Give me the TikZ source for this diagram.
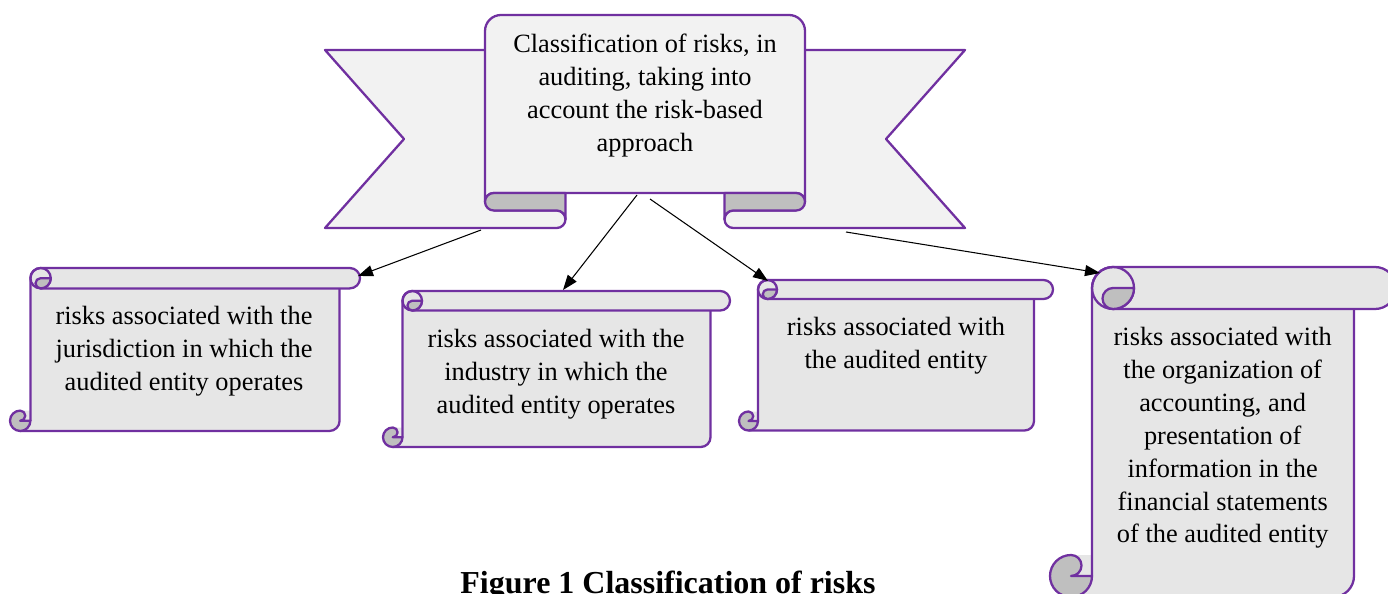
\documentclass[tikz,border=0pt]{standalone}
\usepackage{fontspec}
\setmainfont{Liberation Serif}
\usetikzlibrary{arrows.meta}

\definecolor{ribpurple}{HTML}{7030A0}
\definecolor{ribbonfill}{HTML}{F2F2F2}
\definecolor{scrollfill}{HTML}{E6E6E6}
\definecolor{curlgray}{HTML}{BFBFBF}

\tikzset{
  purpleline/.style={draw=ribpurple,line width=1.3pt,line join=round},
  ribbonbody/.style={purpleline,fill=ribbonfill},
  scrollbody/.style={fill=scrollfill},
  scrollcurl/.style={purpleline,fill=curlgray},
  scrolltext/.style={align=center,inner sep=0pt,font=\fontsize{15}{18.7}\selectfont},
  link/.style={draw=black,line width=0.6pt,-{Triangle[length=0.3cm,width=0.22cm]}},
}

% horizontal scroll: left, top, right, bottom, roll height
\newcommand{\riskscroll}[5]{%
  \pgfmathsetmacro{\scL}{#1}
  \pgfmathsetmacro{\scT}{#2}
  \pgfmathsetmacro{\scR}{#3}
  \pgfmathsetmacro{\scB}{#4}
  \pgfmathsetmacro{\scC}{#5}
  \pgfmathsetmacro{\scH}{#5/2}
  \pgfmathsetmacro{\scQ}{#5/4}
  \fill[scrollbody] (\scL+\scC,\scT+\scH) arc[start angle=180,end angle=270,radius=\scH]
    -- (\scR-\scH,\scT) arc[start angle=270,end angle=450,radius=\scH]
    -- (\scR-\scC,\scT+\scC) -- (\scR-\scC,\scB-\scH)
    arc[start angle=0,end angle=90,radius=\scH]
    -- (\scL+\scH,\scB) arc[start angle=90,end angle=270,radius=\scH]
    -- (\scL+\scC,\scB-\scC) -- cycle;
  \draw[purpleline] (\scL+\scC,\scB-\scH) -- (\scL+\scC,\scT+\scH)
    arc[start angle=180,end angle=270,radius=\scH]
    -- (\scR-\scH,\scT) arc[start angle=270,end angle=450,radius=\scH]
    -- (\scL+\scC+\scH,\scT+\scC);
  \draw[purpleline] (\scR-\scC,\scT+\scC) -- (\scR-\scC,\scB-\scH)
    arc[start angle=0,end angle=90,radius=\scH] -- (\scL+\scH,\scB);
  \draw[purpleline] (\scL+\scC+\scH,\scT+\scH) circle[radius=\scH];
  \filldraw[scrollcurl] (\scL+\scC+\scH,\scT+\scH) -- (\scL+\scC+\scC,\scT+\scH)
    arc[start angle=0,end angle=90,radius=\scH]
    arc[start angle=90,end angle=270,radius=\scQ] -- cycle;
  \filldraw[scrollcurl] (\scL+\scH,\scB-\scC)
    arc[start angle=270,end angle=450,radius=\scQ]
    -- (\scL+\scC,\scB-\scH)
    arc[start angle=0,end angle=270,radius=\scH] -- cycle;
}

\begin{document}
\begin{tikzpicture}[x=0.02cm,y=-0.02cm]
\useasboundingbox (0,0) rectangle (1388,594);
\fill[white] (0,0) rectangle (1388,594);

% ribbon wings
\filldraw[ribbonbody] (494,50) -- (325,50) -- (404,139) -- (325,228) -- (556.75,228)
  arc[start angle=90,end angle=-90,radius=8.75] -- (494,210.5) -- cycle;
\filldraw[ribbonbody] (796,50) -- (965,50) -- (886,139) -- (965,228) -- (733.25,228)
  arc[start angle=90,end angle=270,radius=8.75] -- (796,210.5) -- cycle;
% front panel and folds
\filldraw[ribbonbody] (485,201.75) -- (485,31) arc[start angle=180,end angle=270,radius=16]
  -- (789,15) arc[start angle=270,end angle=360,radius=16] -- (805,201.75)
  arc[start angle=0,end angle=-90,radius=8.75] -- (493.75,193)
  arc[start angle=270,end angle=180,radius=8.75] -- cycle;
\filldraw[scrollcurl] (565.5,193) -- (493.75,193) arc[start angle=270,end angle=90,radius=8.75]
  -- (556.75,210.5) arc[start angle=-90,end angle=0,radius=8.75] -- cycle;
\filldraw[scrollcurl] (724.5,193) -- (796.25,193) arc[start angle=-90,end angle=90,radius=8.75]
  -- (733.25,210.5) arc[start angle=270,end angle=180,radius=8.75] -- cycle;
\node[scrolltext] (title) at (645,95.5) {Classification of risks, in\\auditing, taking into\\account the risk-based\\approach};

\riskscroll{10}{268}{360}{431}{20.4}
\riskscroll{383}{291}{730}{447}{19.5}
\riskscroll{739}{280}{1053}{430.5}{19}
\riskscroll{1050}{267}{1396}{597}{42}

\node[scrolltext] (jurisdiction) at (184,351) {risks associated with the\\jurisdiction in which the\\audited entity operates};
\node[scrolltext] (industry) at (556,374) {risks associated with the\\industry in which the\\audited entity operates};
\node[scrolltext] (entity) at (896,346) {risks associated with\\the audited entity};
\node[scrolltext] (accounting) at (1222.7,438) {risks associated with\\the organization of\\accounting, and\\presentation of\\information in the\\financial statements\\of the audited entity};

\coordinate (title-out1) at (481,230);
\coordinate (title-out2) at (637,195);
\coordinate (title-out3) at (650,199);
\coordinate (title-out4) at (846,232);
\coordinate (jurisdiction-in) at (358,276);
\coordinate (industry-in) at (563,290);
\coordinate (entity-in) at (768,281);
\coordinate (accounting-in) at (1100,273);
\draw[link] (title-out1) -- (jurisdiction-in);
\draw[link] (title-out2) -- (industry-in);
\draw[link] (title-out3) -- (entity-in);
\draw[link] (title-out4) -- (accounting-in);

\node[anchor=base,inner sep=0pt,font=\fontsize{18.2}{22}\selectfont\bfseries] (caption) at (668,593) {Figure 1 Classification of risks};
\end{tikzpicture}
\end{document}
